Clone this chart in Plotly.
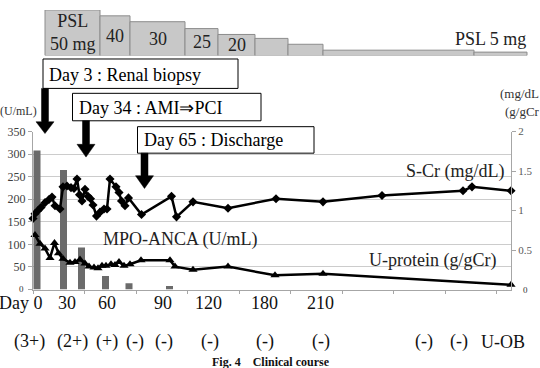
import plotly.graph_objects as go

W, H = 540, 368
SERIF = "Liberation Serif"


def X(px):
    return px / W


def Y(py):
    return 1 - py / H


# ---- data (x = position along the chart's compressed timeline axis) ----
anca_t = [4, 30.5, 48.5, 72.5, 96, 136.5]
anca_val = [308, 265, 93, 30, 14, 8]

scr_t = [0, 2, 5, 8, 12, 16, 19, 22, 27, 30, 34, 38, 41, 44, 46.5, 49, 52, 55,
         57.5, 60, 63.5, 67, 71, 74, 77, 83, 86, 88.5, 92, 95.5, 108.5, 138.5,
         143.5, 160, 195, 243, 290, 349, 430, 439, 478]
scr_val = [0.90, 0.96, 1.00, 1.04, 1.10, 1.14, 1.17, 1.06, 1.02, 1.30, 1.31,
           1.29, 1.28, 1.40, 1.20, 1.12, 1.27, 1.18, 1.15, 1.07, 0.93, 0.98,
           1.02, 1.02, 1.40, 1.30, 1.23, 1.12, 1.06, 1.16, 0.95, 1.18, 0.92,
           1.11, 1.03, 1.15, 1.11, 1.19, 1.25, 1.30, 1.25]

up_t = [2, 7, 12, 17, 21.5, 25.5, 30, 37, 42, 47, 52, 56, 61, 65, 69, 73, 78,
        82, 86, 91, 97, 108, 137, 142, 160, 195, 242, 290, 478]
up_val = [0.69, 0.58, 0.52, 0.40, 0.59, 0.46, 0.39, 0.34, 0.35, 0.38, 0.33,
          0.29, 0.28, 0.27, 0.30, 0.30, 0.32, 0.31, 0.35, 0.30, 0.32, 0.37,
          0.37, 0.29, 0.25, 0.29, 0.18, 0.20, 0.06]

# PSL taper blocks: start, length, drawn level
psl_start = [12, 67, 97, 152, 185, 222, 255, 290, 441]
psl_len = [55, 30, 55, 33, 37, 33, 35, 151, 53]
psl_level = [46.5, 40.5, 34.5, 27.5, 21.5, 17.5, 11.5, 5.5, 3.5]
psl_labels = ["PSL<br>50 mg", "40", "30", "25", "20"]

xtick_t = [0, 51.5, 103, 154.5, 206, 257.5, 309, 360.5, 412, 463.5]
left_ticks = [0, 50, 100, 150, 200, 250, 300, 350]
right_ticks = [0.5, 1, 1.5, 2]

day_labels = ["30", "60", "90", "120", "180", "210"]
day_label_t = [34, 74, 130, 175, 231, 287]

sign_labels = ["(3+)", "(2+)", "(+)", "(-)", "(-)", "(-)", "(-)", "(-)", "(-)", "(-)", "U-OB"]
sign_px = [29, 72, 107, 135, 164, 210, 265, 321, 424, 459, 503]

fig = go.Figure()
fig.add_trace(go.Bar(x=anca_t, y=anca_val, width=7, marker=dict(color="#6b6b6b", line=dict(width=0)),
                     xaxis="x", yaxis="y", hoverinfo="skip"))
fig.add_trace(go.Scatter(x=scr_t, y=scr_val, mode="lines+markers", xaxis="x", yaxis="y2",
                         line=dict(color="black", width=2.5),
                         marker=dict(symbol="diamond", size=7, color="black"), cliponaxis=False))
fig.add_trace(go.Scatter(x=up_t, y=up_val, mode="lines+markers", xaxis="x", yaxis="y2",
                         line=dict(color="black", width=2.5),
                         marker=dict(symbol="triangle-up", size=8, color="black"), cliponaxis=False))
fig.add_trace(go.Bar(x=psl_start, y=psl_level, width=psl_len, offset=0, xaxis="x2", yaxis="y3",
                     marker=dict(color="#c8c8c8", line=dict(color="#8c8c8c", width=1))))

ann = []
for i, lab in enumerate(psl_labels):
    cx = psl_start[i] + psl_len[i] / 2
    ann.append(dict(x=cx, y=psl_level[i] / 2, xref="x2", yref="y3",
                    text=lab, showarrow=False, font=dict(family=SERIF, size=18, color="#222"),
                    yanchor="middle"))
ann.append(dict(x=X(528), y=Y(33), xref="paper", yref="paper", text="PSL 5 mg", showarrow=False,
                xanchor="right", yanchor="middle", font=dict(family=SERIF, size=18, color="#222")))

events = [("Day 3 : Renal biopsy", 47, 69), ("Day 34 : AMI\u21d2PCI", 77, 103),
          ("Day 65 : Discharge", 142, 136)]
for t, x0, yc in events:
    ann.append(dict(x=X(x0), y=Y(yc), xref="paper", yref="paper", text=t, showarrow=False,
                    xanchor="left", yanchor="middle", font=dict(family=SERIF, size=18, color="black")))

ann.append(dict(x=X(404), y=Y(168), xref="paper", yref="paper", text="S-Cr (mg/dL)", showarrow=False,
                xanchor="left", yanchor="middle", font=dict(family=SERIF, size=18, color="#222")))
ann.append(dict(x=X(367), y=Y(258), xref="paper", yref="paper", text="U-protein (g/gCr)", showarrow=False,
                xanchor="left", yanchor="middle", font=dict(family=SERIF, size=18, color="#222")))
ann.append(dict(x=X(101), y=Y(237), xref="paper", yref="paper", text="MPO-ANCA (U/mL)", showarrow=False,
                xanchor="left", yanchor="middle", font=dict(family=SERIF, size=18, color="#222")))

ann.append(dict(x=X(0), y=Y(106), xref="paper", yref="paper", text="(U/mL)", showarrow=False,
                xanchor="left", yanchor="middle", xshift=-2, font=dict(family=SERIF, size=12, color="#333")))
ann.append(dict(x=X(498), y=Y(88), xref="paper", yref="paper", text="(mg/dL", showarrow=False,
                xanchor="left", yanchor="middle", font=dict(family=SERIF, size=13, color="#333")))
ann.append(dict(x=X(503), y=Y(107), xref="paper", yref="paper", text="(g/gCr", showarrow=False,
                xanchor="left", yanchor="middle", font=dict(family=SERIF, size=13, color="#333")))
ann.append(dict(x=X(21.5), y=Y(287), xref="paper", yref="paper", text="0", showarrow=False,
                xanchor="center", yanchor="middle", font=dict(family=SERIF, size=9, color="#333")))
ann.append(dict(x=X(525), y=Y(288), xref="paper", yref="paper", text="0", showarrow=False,
                xanchor="center", yanchor="middle", font=dict(family=SERIF, size=9, color="#333")))

ann.append(dict(x=12, y=Y(302), xref="x", yref="paper", text="Day 0", showarrow=False,
                xanchor="right", yanchor="middle", font=dict(family=SERIF, size=18, color="#111")))
for lab, t in zip(day_labels, day_label_t):
    ann.append(dict(x=t, y=Y(302), xref="x", yref="paper", text=lab, showarrow=False,
                    xanchor="center", yanchor="middle", font=dict(family=SERIF, size=18, color="#111")))
ann.append(dict(x=480, y=Y(302), xref="x", yref="paper", text="Day 540", showarrow=False,
                xanchor="right", yanchor="middle", font=dict(family=SERIF, size=18, color="#111")))
for lab, p in zip(sign_labels, sign_px):
    ann.append(dict(x=X(p), y=Y(341), xref="paper", yref="paper", text=lab, showarrow=False,
                    xanchor="center", yanchor="middle", font=dict(family=SERIF, size=18, color="#111")))
ann.append(dict(x=X(271), y=Y(362), xref="paper", yref="paper", text="<b>Fig. 4\u2003Clinical course</b>",
                showarrow=False, xanchor="center", yanchor="middle",
                font=dict(family=SERIF, size=12, color="#111")))

shapes = []
boxes = [(43, 53, 238, 83), (72.5, 88, 261, 116), (137.5, 122, 314, 149)]
for x0, y0, x1, y1 in boxes:
    shapes.append(dict(type="rect", xref="paper", yref="paper", x0=X(x0), x1=X(x1), y0=Y(y1), y1=Y(y0),
                       line=dict(color="black", width=1), fillcolor="white", layer="above"))
arrows = [(45, 83, 117, 129), (86, 116, 140, 153), (144.5, 149, 172, 185)]
for cx, top, hb, tip in arrows:
    pts = [(cx - 3.5, top), (cx + 3.5, top), (cx + 3.5, hb), (cx + 9, hb), (cx, tip), (cx - 9, hb), (cx - 3.5, hb)]
    path = "M " + " L ".join(f"{X(a):.5f},{Y(b):.5f}" for a, b in pts) + " Z"
    shapes.append(dict(type="path", xref="paper", yref="paper", path=path, fillcolor="black",
                       line=dict(color="black", width=0.5), layer="above"))

fig.update_layout(
    width=W, height=H, margin=dict(l=0, r=0, t=0, b=0),
    paper_bgcolor="white", plot_bgcolor="white", showlegend=False,
    font=dict(family=SERIF),
    xaxis=dict(domain=[X(33), X(511)], range=[0, 478], anchor="y", showgrid=False, zeroline=False,
               showline=True, linecolor="#a6a6a6", linewidth=1, ticks="outside", ticklen=3,
               tickcolor="#a6a6a6", tickvals=xtick_t, showticklabels=False),
    yaxis=dict(domain=[Y(288), Y(127)], range=[0, 350], anchor="x", tickvals=left_ticks,
               ticktext=[""] + [str(v) for v in left_ticks[1:]], showgrid=True, gridcolor="#cccccc",
               gridwidth=1, zeroline=False, showline=True, linecolor="#a6a6a6", ticks="outside",
               ticklen=4, tickcolor="#a6a6a6", tickfont=dict(family=SERIF, size=12, color="#404040")),
    yaxis2=dict(overlaying="y", side="right", range=[0, 2], anchor="x", tickvals=right_ticks,
                ticktext=["0.5", "1", "1.5", "2"], showgrid=False, zeroline=False, showline=True,
                linecolor="#a6a6a6", ticks="outside", ticklen=4, tickcolor="#a6a6a6",
                tickfont=dict(family=SERIF, size=11, color="#595959")),
    xaxis2=dict(domain=[0, 1], range=[-33, 507], anchor="y3", visible=False),
    yaxis3=dict(domain=[Y(49.5), Y(3)], range=[0, 46.5], anchor="x2", visible=False),
    annotations=ann, shapes=shapes,
)

fig.write_html("out.html")
